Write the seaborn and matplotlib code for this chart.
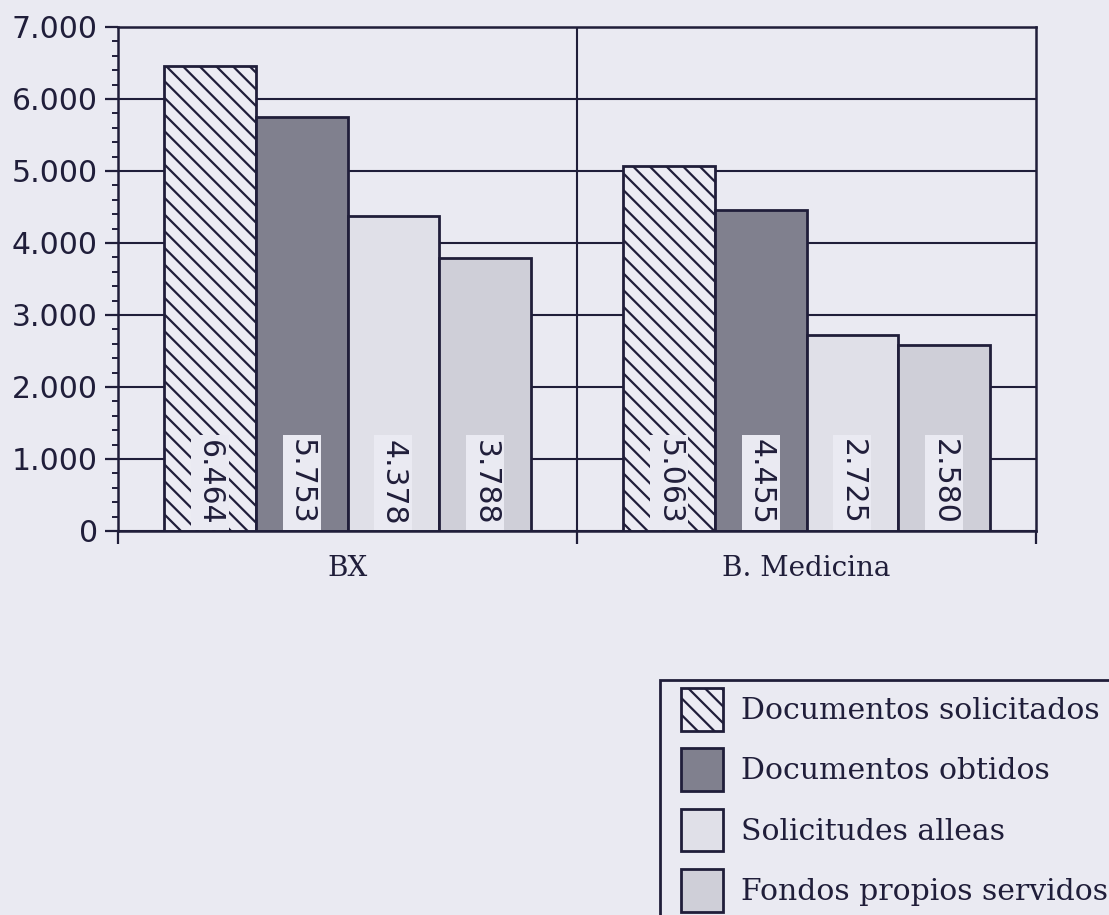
import matplotlib
matplotlib.use("Agg")
import matplotlib.pyplot as plt
import seaborn as sns
import pandas as pd
from matplotlib.ticker import FuncFormatter, MultipleLocator
from matplotlib.patches import Patch, Rectangle

# ---- data ----
categories = ["BX", "B. Medicina"]
series = ["Documentos solicitados", "Documentos obtidos",
          "Solicitudes alleas", "Fondos propios servidos"]
doc_solicitados = [6464, 5063]
doc_obtidos = [5753, 4455]
solic_alleas = [4378, 2725]
fondos_propios = [3788, 2580]
y_ticks = [0, 1000, 2000, 3000, 4000, 5000, 6000, 7000]

values = [doc_solicitados, doc_obtidos, solic_alleas, fondos_propios]
rows = []
for s, vals in zip(series, values):
    for c, v in zip(categories, vals):
        rows.append({"Biblioteca": c, "Serie": s, "Valor": v})
df = pd.DataFrame(rows)

# ---- style ----
sns.set_style("ticks")
BG = "#eaeaf2"
LINE = "#201e3a"
colors = ["#ececf3", "#80808e", "#e0e0e8", "#cfcfd8"]
hatches = ["\\\\", "", "", ""]
plt.rcParams["font.family"] = ["DejaVu Sans"]
plt.rcParams["hatch.color"] = LINE
plt.rcParams["hatch.linewidth"] = 1.6

W, H = 1109, 915
fig = plt.figure(figsize=(W / 100, H / 100), dpi=100, facecolor=BG)
ax = fig.add_axes([118 / W, 1 - 531 / H, (1036 - 118) / W, (531 - 27) / H])
ax.set_facecolor(BG)

sns.barplot(data=df, x="Biblioteca", y="Valor", hue="Serie",
            order=categories, hue_order=series, palette=colors,
            width=0.8, saturation=1, edgecolor=LINE, linewidth=2,
            legend=False, ax=ax, zorder=2)

for cont, h in zip(ax.containers, hatches):
    for bar in cont:
        if h:
            bar.set_hatch(h)

# value labels (vertical, at the bottom of each bar)
for cont, vals in zip(ax.containers, values):
    for bar, v in zip(cont, vals):
        xc = bar.get_x() + bar.get_width() / 2
        ax.text(xc, 80, f"{v:,}".replace(",", "."), rotation=-90,
                ha="center", va="bottom", fontsize=21.5, color=LINE, zorder=4,
                bbox=dict(boxstyle="square,pad=0.15", fc=BG, ec="none"))

# axes, grid, ticks
ax.set_xlim(-0.5, 1.5)
ax.set_ylim(0, 7000)
ax.set_axisbelow(True)
ax.yaxis.grid(True, color=LINE, lw=1.5)
ax.xaxis.grid(False)
ax.axvline(0.5, color=LINE, lw=1.5, zorder=1)

ax.set_yticks(y_ticks)
ax.yaxis.set_minor_locator(MultipleLocator(200))
ax.yaxis.set_major_formatter(FuncFormatter(lambda v, p: f"{int(v):,}".replace(",", ".")))
ax.tick_params(axis="y", which="major", length=9.5, width=1.6, color=LINE,
               labelsize=21.5, labelcolor=LINE, pad=5, direction="out")
ax.tick_params(axis="y", which="minor", length=4.5, width=1.4, color=LINE, direction="out")

ax.set_xticks([0, 1])
ax.set_xticklabels(categories, fontfamily="DejaVu Serif", fontsize=20, color=LINE)
ax.set_xticks([-0.5, 0.5, 1.5], minor=True)
ax.tick_params(axis="x", which="major", length=0, pad=17)
ax.tick_params(axis="x", which="minor", length=9, width=1.6, color=LINE, direction="out")

ax.set_xlabel("")
ax.set_ylabel("")
for sp in ax.spines.values():
    sp.set_visible(True)
    sp.set_color(LINE)
    sp.set_linewidth(1.8)

# legend frame (box runs off the page at right and bottom)
frame = Rectangle((660 / W, 1 - 940 / H), (1140 - 660) / W, (940 - 680) / H,
                  transform=fig.transFigure, facecolor=BG, edgecolor=LINE,
                  linewidth=2, zorder=1)
fig.add_artist(frame)

handles = [Patch(facecolor=c, edgecolor=LINE, hatch=h, linewidth=2)
           for c, h in zip(colors, hatches)]
leg = fig.legend(handles, series, loc="upper left",
                 bbox_to_anchor=(681 / W, 1 - 688 / H),
                 bbox_transform=fig.transFigure, frameon=False,
                 prop={"family": "DejaVu Serif", "size": 21.5},
                 handlelength=1.4, handleheight=1.835, labelspacing=0.58,
                 handletextpad=0.6, borderpad=0, borderaxespad=0)
leg.set_zorder(2)
for t in leg.get_texts():
    t.set_color(LINE)

fig.savefig("out.png", dpi=100, facecolor=BG)
